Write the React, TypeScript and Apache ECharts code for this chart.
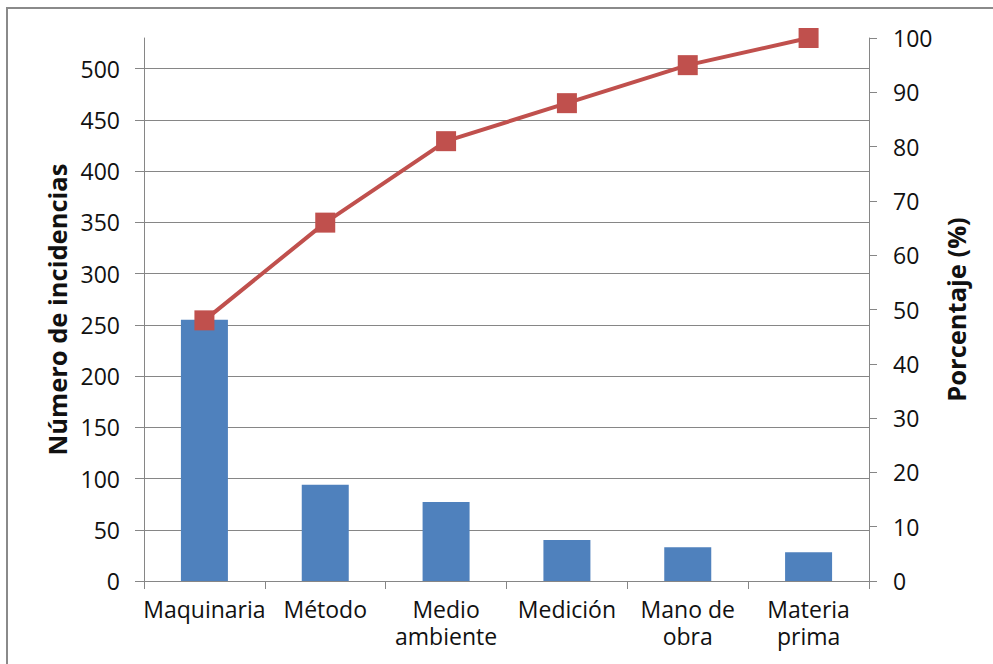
import React, { useEffect, useRef } from "react";
import * as echarts from "echarts";

const categories = ["Maquinaria", "Método", "Medio\nambiente", "Medición", "Mano de\nobra", "Materia\nprima"];
const incidencias = [255, 94, 77, 40, 33, 28];
const porcentaje = [48, 66, 81, 88, 95, 100];
const leftTicks = [0, 50, 100, 150, 200, 250, 300, 350, 400, 450, 500];
const leftMax = 530;
const rightMax = 100;

const FONT = "Open Sans";
const GRAY = "#868686";
const TEXT = "#111";

export default function App() {
  const ref = useRef<HTMLDivElement>(null);
  useEffect(() => {
    if (!ref.current) return;
    const chart = echarts.init(ref.current, undefined, { renderer: "svg" });
    chart.setOption({
      animation: false,
      backgroundColor: "#fff",
      textStyle: { fontFamily: FONT },
      graphic: [
        {
          type: "rect",
          shape: { x: 7, y: 8, width: 1000, height: 700 },
          style: { fill: "none", stroke: "#8a8a8a", lineWidth: 2 },
          silent: true,
        },
      ],
      grid: { left: 144, right: 124, top: 38, bottom: 83, containLabel: false },
      xAxis: {
        type: "category",
        data: categories,
        boundaryGap: true,
        axisLine: { show: true, lineStyle: { color: GRAY, width: 1 } },
        axisTick: { show: true, length: 8, lineStyle: { color: GRAY } },
        axisLabel: {
          color: TEXT,
          fontFamily: FONT,
          fontSize: 23,
          lineHeight: 26.5,
          margin: 15,
          interval: 0,
        },
      },
      yAxis: [
        {
          type: "value",
          min: 0,
          max: leftMax,
          position: "left",
          name: "Número de incidencias",
          nameLocation: "middle",
          nameGap: 72,
          nameTextStyle: { color: TEXT, fontFamily: FONT, fontSize: 25.5, fontWeight: "bold" },
          axisLine: { show: true, lineStyle: { color: GRAY, width: 1 } },
          axisTick: { show: true, length: 9, lineStyle: { color: GRAY }, customValues: leftTicks },
          axisLabel: { color: TEXT, fontFamily: FONT, fontSize: 23, margin: 24, customValues: leftTicks },
          splitLine: { show: true, lineStyle: { color: GRAY, width: 1 } },
        },
        {
          type: "value",
          min: 0,
          max: rightMax,
          interval: 10,
          position: "right",
          name: "Porcentaje (%)",
          nameLocation: "middle",
          nameGap: 74,
          nameTextStyle: { color: TEXT, fontFamily: FONT, fontSize: 25.5, fontWeight: "bold" },
          axisLine: { show: true, lineStyle: { color: GRAY, width: 1 } },
          axisTick: { show: true, length: 8, lineStyle: { color: GRAY } },
          axisLabel: { color: TEXT, fontFamily: FONT, fontSize: 23, margin: 24 },
          splitLine: { show: false },
        },
      ],
      series: [
        {
          type: "bar",
          data: incidencias,
          yAxisIndex: 0,
          barWidth: 47,
          itemStyle: { color: "#4F81BD" },
          z: 2,
        },
        {
          type: "line",
          data: porcentaje,
          yAxisIndex: 1,
          symbol: "rect",
          symbolSize: 20,
          lineStyle: { color: "#C0504D", width: 4 },
          itemStyle: { color: "#C0504D" },
          z: 3,
        },
      ],
    });
    return () => chart.dispose();
  }, []);
  return (
    <div
      ref={ref}
      style={{ position: "absolute", left: 0, top: 0, width: 993, height: 664 }}
    />
  );
}
